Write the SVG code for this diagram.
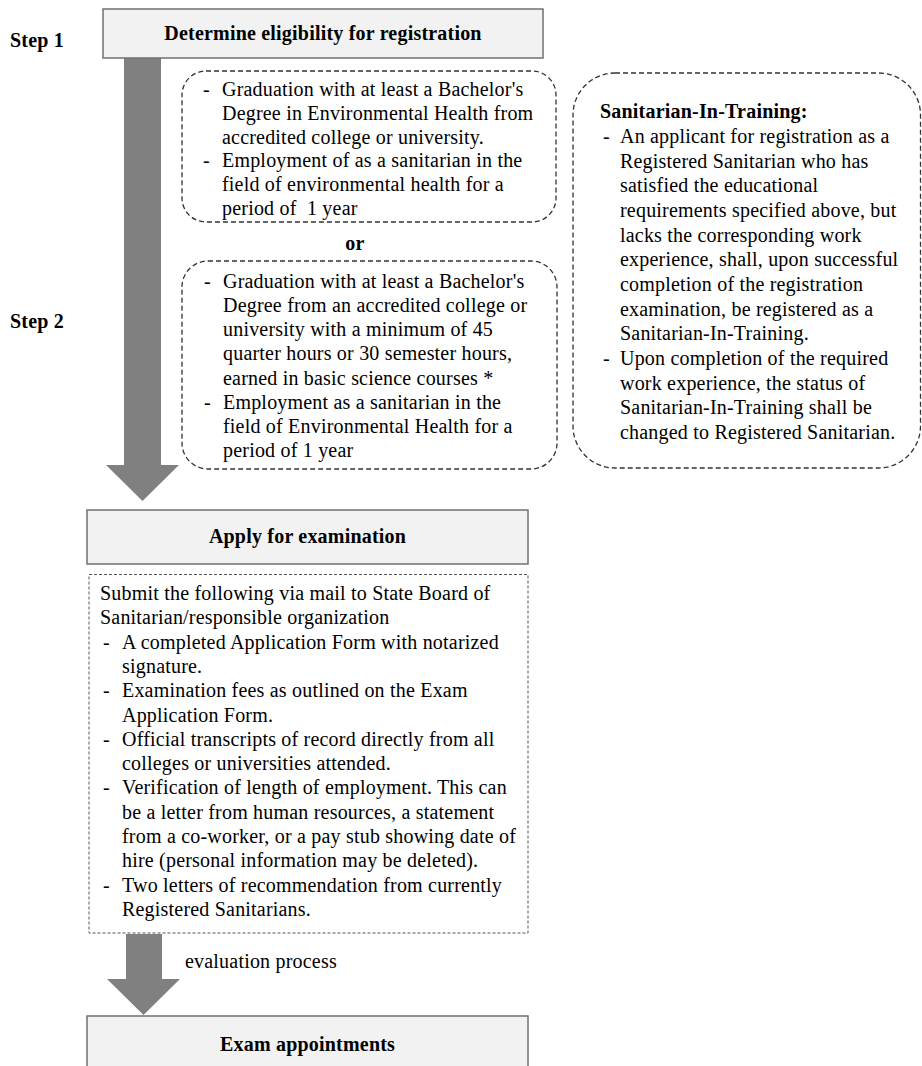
<svg xmlns="http://www.w3.org/2000/svg" width="922" height="1066" viewBox="0 0 922 1066">
<style>
.t{font-family:"Liberation Serif","Times New Roman",serif;font-size:20px;letter-spacing:0.2px;fill:#000}
.b{font-weight:bold}
.m{text-anchor:middle}
.box{fill:#f2f2f2;stroke:#707070;stroke-width:1.5}
.dash{fill:none;stroke:#333;stroke-width:1.3;stroke-dasharray:5 3}
.sq{fill:none;stroke:#555;stroke-width:1;stroke-dasharray:3 2}
.arrow{fill:#808080}
</style>
<rect width="922" height="1066" fill="#fff"/>

<g id="connectors">
  <polygon class="arrow" points="124,58 161,58 161,465 179,465 142.5,501 106,465 124,465"/>
  <polygon class="arrow" points="126,934 162,934 162,979 180,979 143.5,1015 107,979 126,979"/>
</g>

<text class="t b" x="10" y="47">Step 1</text>
<text class="t b" x="10" y="328">Step 2</text>
<text class="t b m" x="355" y="250">or</text>
<text class="t" x="185" y="968">evaluation process</text>

<g id="step1">
  <rect class="box" x="103" y="9" width="440" height="49"/>
  <text class="t b m" x="323" y="40">Determine eligibility for registration</text>
</g>

<g id="option1">
  <rect class="dash" x="182" y="71" width="374" height="151" rx="24" ry="24"/>
  <text class="t" x="203" y="96">-</text>
  <text class="t" x="222" y="96">Graduation with at least a Bachelor's</text>
  <text class="t" x="222" y="119.8">Degree in Environmental Health from</text>
  <text class="t" x="222" y="143.6">accredited college or university.</text>
  <text class="t" x="203" y="167.4">-</text>
  <text class="t" x="222" y="167.4">Employment of as a sanitarian in the</text>
  <text class="t" x="222" y="191.2">field of environmental health for a</text>
  <text class="t" x="222" y="215" xml:space="preserve">period of  1 year</text>
</g>

<g id="option2">
  <rect class="dash" x="182" y="261" width="375" height="208" rx="26" ry="26"/>
  <text class="t" x="204" y="288">-</text>
  <text class="t" x="223" y="288">Graduation with at least a Bachelor's</text>
  <text class="t" x="223" y="312.1">Degree from an accredited college or</text>
  <text class="t" x="223" y="336.3">university with a minimum of 45</text>
  <text class="t" x="223" y="360.4">quarter hours or 30 semester hours,</text>
  <text class="t" x="223" y="384.6">earned in basic science courses *</text>
  <text class="t" x="204" y="408.7">-</text>
  <text class="t" x="223" y="408.7">Employment as a sanitarian in the</text>
  <text class="t" x="223" y="432.9">field of Environmental Health for a</text>
  <text class="t" x="223" y="457">period of 1 year</text>
</g>

<g id="sit">
  <rect class="dash" x="573" y="73" width="347.5" height="395" rx="42" ry="42"/>
  <text class="t b" x="600" y="118">Sanitarian-In-Training:</text>
  <text class="t" x="603" y="143">-</text>
  <text class="t" x="620" y="143">An applicant for registration as a</text>
  <text class="t" x="620" y="167.7">Registered Sanitarian who has</text>
  <text class="t" x="620" y="192.3">satisfied the educational</text>
  <text class="t" x="620" y="217">requirements specified above, but</text>
  <text class="t" x="620" y="241.7">lacks the corresponding work</text>
  <text class="t" x="620" y="266.3">experience, shall, upon successful</text>
  <text class="t" x="620" y="291">completion of the registration</text>
  <text class="t" x="620" y="315.7">examination, be registered as a</text>
  <text class="t" x="620" y="340.3">Sanitarian-In-Training.</text>
  <text class="t" x="603" y="365">-</text>
  <text class="t" x="620" y="365">Upon completion of the required</text>
  <text class="t" x="620" y="389.7">work experience, the status of</text>
  <text class="t" x="620" y="414.3">Sanitarian-In-Training shall be</text>
  <text class="t" x="620" y="439">changed to Registered Sanitarian.</text>
</g>

<g id="apply">
  <rect class="box" x="87" y="510" width="441" height="54"/>
  <text class="t b m" x="307.5" y="543">Apply for examination</text>
</g>

<g id="documents">
  <rect class="sq" x="89" y="574.5" width="439" height="358.5"/>
  <text class="t" x="100" y="600">Submit the following via mail to State Board of</text>
  <text class="t" x="100" y="624.3">Sanitarian/responsible organization</text>
  <text class="t" x="103" y="648.6">-</text>
  <text class="t" x="122" y="648.6">A completed Application Form with notarized</text>
  <text class="t" x="122" y="672.9">signature.</text>
  <text class="t" x="103" y="697.2">-</text>
  <text class="t" x="122" y="697.2">Examination fees as outlined on the Exam</text>
  <text class="t" x="122" y="721.5">Application Form.</text>
  <text class="t" x="103" y="745.8">-</text>
  <text class="t" x="122" y="745.8">Official transcripts of record directly from all</text>
  <text class="t" x="122" y="770.1">colleges or universities attended.</text>
  <text class="t" x="103" y="794.4">-</text>
  <text class="t" x="122" y="794.4">Verification of length of employment. This can</text>
  <text class="t" x="122" y="818.7">be a letter from human resources, a statement</text>
  <text class="t" x="122" y="843">from a co-worker, or a pay stub showing date of</text>
  <text class="t" x="122" y="867.3">hire (personal information may be deleted).</text>
  <text class="t" x="103" y="891.6">-</text>
  <text class="t" x="122" y="891.6">Two letters of recommendation from currently</text>
  <text class="t" x="122" y="915.9">Registered Sanitarians.</text>
</g>

<g id="exam">
  <rect class="box" x="87" y="1016" width="441" height="60"/>
  <text class="t b m" x="307.5" y="1051">Exam appointments</text>
</g>
</svg>
